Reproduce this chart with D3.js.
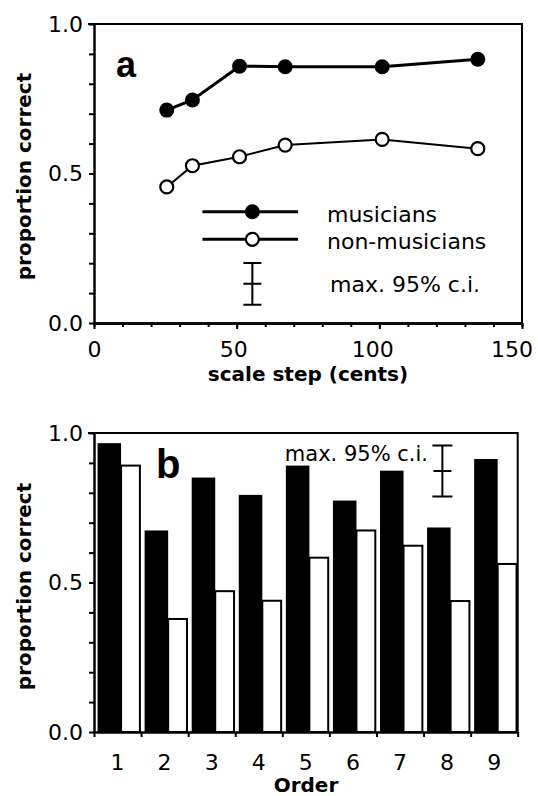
<!DOCTYPE html>
<html>
<head>
<meta charset="utf-8">
<script src="https://cdn.jsdelivr.net/npm/d3@7"></script>
<style>
  body { margin: 0; background: #fff; }
  text { font-family: "DejaVu Sans", sans-serif; fill: #000; }
  .bold { font-weight: bold; }
</style>
</head>
<body>
<script>
// panel a - proportion correct vs scale step
var steps = [25.5, 34.5, 51, 67, 101, 134.5];
var musiciansA = [0.712, 0.746, 0.859, 0.857, 0.857, 0.882];
var nonMusiciansA = [0.455, 0.526, 0.556, 0.595, 0.614, 0.583];
var ciA = { x: 55.5, mid: 0.131, half: 0.07 }; // max. 95% c.i.

// panel b - proportion correct by order
var orders = ["1", "2", "3", "4", "5", "6", "7", "8", "9"];
var musiciansB = [0.966, 0.674, 0.851, 0.793, 0.891, 0.774, 0.874, 0.684, 0.913];
var nonMusiciansB = [0.891, 0.378, 0.471, 0.439, 0.583, 0.674, 0.623, 0.438, 0.562];
var ciB = { order: "8", mid: 0.873, half: 0.085 };

var yTicks = d3.range(0, 1.01, 0.1);
var yLabels = [0, 0.5, 1];
var xTicksA = d3.range(0, 151, 10);
var xLabelsA = [0, 50, 100, 150];

var svg = d3.select("body").append("svg")
    .attr("width", 538)
    .attr("height", 796);

svg.append("rect").attr("width", 538).attr("height", 796).style("fill", "white");

/* ---------------- panel a ---------------- */
var xA = d3.scaleLinear().domain([0, 150]).range([94, 522]);
var yA = d3.scaleLinear().domain([0, 1]).range([323, 24]);

var gA = svg.append("g");

// frame top + right
gA.append("path")
    .attr("d", "M" + (xA(0) - 6) + "," + yA(1) + "H" + xA(150) + "V" + yA(0))
    .attr("fill", "none").attr("stroke", "black").attr("stroke-width", 2);

var lineA = d3.line()
    .x(function(d, i) { return xA(steps[i]); })
    .y(function(d) { return yA(d); });

gA.append("path").datum(musiciansA)
    .attr("d", lineA).attr("fill", "none").attr("stroke", "black").attr("stroke-width", 3);
gA.append("path").datum(nonMusiciansA)
    .attr("d", lineA).attr("fill", "none").attr("stroke", "black").attr("stroke-width", 2);

gA.selectAll("circle.mus").data(musiciansA).enter().append("circle")
    .attr("class", "mus")
    .attr("cx", function(d, i) { return xA(steps[i]); })
    .attr("cy", function(d) { return yA(d); })
    .attr("r", 7.5).style("fill", "black");

gA.selectAll("circle.non").data(nonMusiciansA).enter().append("circle")
    .attr("class", "non")
    .attr("cx", function(d, i) { return xA(steps[i]); })
    .attr("cy", function(d) { return yA(d); })
    .attr("r", 6.5).style("fill", "white").attr("stroke", "black").attr("stroke-width", 2.2);

// legend
var legY = [0.372, 0.28];
gA.append("line").attr("x1", xA(38)).attr("x2", xA(71.5)).attr("y1", yA(legY[0])).attr("y2", yA(legY[0]))
    .attr("stroke", "black").attr("stroke-width", 3);
gA.append("circle").attr("cx", xA(55.5)).attr("cy", yA(legY[0])).attr("r", 7.5).style("fill", "black");
gA.append("line").attr("x1", xA(38)).attr("x2", xA(71.5)).attr("y1", yA(legY[1])).attr("y2", yA(legY[1]))
    .attr("stroke", "black").attr("stroke-width", 3);
gA.append("circle").attr("cx", xA(55.5)).attr("cy", yA(legY[1])).attr("r", 6.5)
    .style("fill", "white").attr("stroke", "black").attr("stroke-width", 2.2);
gA.append("text").attr("x", 327).attr("y", yA(legY[0]) + 10).style("font-size", "22px").text("musicians");
gA.append("text").attr("x", 327).attr("y", yA(legY[1]) + 10).style("font-size", "22px").text("non-musicians");

// c.i. bar
var ciax = xA(ciA.x);
gA.append("path")
    .attr("d", "M" + ciax + "," + yA(ciA.mid + ciA.half) + "V" + yA(ciA.mid - ciA.half)
        + "M" + (ciax - 9) + "," + yA(ciA.mid + ciA.half) + "h18"
        + "M" + (ciax - 9) + "," + yA(ciA.mid) + "h18"
        + "M" + (ciax - 9) + "," + yA(ciA.mid - ciA.half) + "h18")
    .attr("fill", "none").attr("stroke", "black").attr("stroke-width", 2);
gA.append("text").attr("x", 330).attr("y", yA(ciA.mid) + 8).style("font-size", "22px").text("max. 95% c.i.");

gA.append("text").attr("class", "bold").attr("x", 116).attr("y", 77)
    .style("font-family", "Liberation Sans, sans-serif").style("font-size", "36px").text("a");

// axes
gA.append("g").attr("transform", "translate(0," + yA(0) + ")")
    .call(d3.axisBottom(xA).tickValues(xTicksA).tickFormat("").tickSize(4).tickSizeOuter(0));
var axA2 = gA.append("g").attr("transform", "translate(0," + yA(0) + ")")
    .call(d3.axisBottom(xA).tickValues(xLabelsA).tickSize(6).tickPadding(12).tickSizeOuter(0));
// labels sit a little left of their ticks in the original
axA2.selectAll(".tick text").attr("dx", function(d) { return -d * 0.07; });

gA.append("g").attr("transform", "translate(" + xA(0) + ",0)")
    .call(d3.axisLeft(yA).tickValues(yTicks).tickFormat(function(d) {
        return yLabels.some(function(v) { return Math.abs(v - d) < 1e-6; }) ? d3.format(".1f")(d) : "";
    }).tickSize(5).tickPadding(6).tickSizeOuter(0));

gA.append("text").attr("class", "bold").attr("x", 308).attr("y", 381)
    .attr("text-anchor", "middle").style("font-size", "20px").text("scale step (cents)");
gA.append("text").attr("class", "bold")
    .attr("transform", "translate(31," + (yA(0.5) + 3) + ") rotate(-90)")
    .attr("text-anchor", "middle").style("font-size", "20px").text("proportion correct");

/* ---------------- panel b ---------------- */
var xB = d3.scaleBand().domain(orders).range([94, 517.7]);
var xBEdges = d3.scaleLinear().domain([0, orders.length]).range(xB.range());
var yB = d3.scaleLinear().domain([0, 1]).range([732, 433]);
var bw = xB.bandwidth();

var gB = svg.append("g");

gB.append("path")
    .attr("d", "M" + (xB.range()[0] - 6) + "," + yB(1) + "H" + xB.range()[1] + "V" + yB(0))
    .attr("fill", "none").attr("stroke", "black").attr("stroke-width", 2);

gB.selectAll("rect.mus").data(musiciansB).enter().append("rect")
    .attr("class", "mus")
    .attr("x", function(d, i) { return xB(orders[i]) + bw * 0.075; })
    .attr("width", bw * 0.5)
    .attr("y", function(d) { return yB(d); })
    .attr("height", function(d) { return yB(0) - yB(d); })
    .style("fill", "black");

gB.selectAll("rect.non").data(nonMusiciansB).enter().append("rect")
    .attr("class", "non")
    .attr("x", function(d, i) { return xB(orders[i]) + bw * 0.575; })
    .attr("width", bw * 0.4)
    .attr("y", function(d) { return yB(d); })
    .attr("height", function(d) { return yB(0) - yB(d); })
    .style("fill", "white").attr("stroke", "black").attr("stroke-width", 2);

// c.i. bar
var cibx = xB(ciB.order) + bw * 0.4;
gB.append("path")
    .attr("d", "M" + cibx + "," + yB(ciB.mid + ciB.half) + "V" + yB(ciB.mid - ciB.half)
        + "M" + (cibx - 10) + "," + yB(ciB.mid + ciB.half) + "h20"
        + "M" + (cibx - 9) + "," + yB(ciB.mid) + "h18"
        + "M" + (cibx - 10) + "," + yB(ciB.mid - ciB.half) + "h20")
    .attr("fill", "none").attr("stroke", "black").attr("stroke-width", 2);
gB.append("text").attr("x", 428).attr("y", 461).attr("text-anchor", "end")
    .style("font-size", "21px").text("max. 95% c.i.");

gB.append("text").attr("class", "bold").attr("x", 156).attr("y", 478)
    .style("font-family", "Liberation Sans, sans-serif").style("font-size", "40px").text("b");

// axes
gB.append("g").attr("transform", "translate(0," + yB(0) + ")")
    .call(d3.axisBottom(xBEdges).tickValues(d3.range(0, orders.length + 1)).tickFormat("").tickSize(5).tickSizeOuter(0));
gB.append("g").attr("transform", "translate(0," + yB(0) + ")")
    .call(d3.axisBottom(xB).tickSize(0).tickPadding(22))
    .select(".domain").remove();
gB.append("g").attr("transform", "translate(" + xB.range()[0] + ",0)")
    .call(d3.axisLeft(yB).tickValues(yTicks).tickFormat(function(d) {
        return yLabels.some(function(v) { return Math.abs(v - d) < 1e-6; }) ? d3.format(".1f")(d) : "";
    }).tickSize(5).tickPadding(6).tickSizeOuter(0));

gB.append("text").attr("class", "bold").attr("x", 306).attr("y", 792)
    .attr("text-anchor", "middle").style("font-size", "20px").text("Order");
gB.append("text").attr("class", "bold")
    .attr("transform", "translate(31," + (yB(0.5) + 4) + ") rotate(-90)")
    .attr("text-anchor", "middle").style("font-size", "20px").text("proportion correct");

// axis styling
svg.selectAll(".domain").attr("stroke", "black").attr("stroke-width", 2.5);
svg.selectAll(".tick line").attr("stroke", "black").attr("stroke-width", 2);
svg.selectAll(".tick text").style("font-family", "DejaVu Sans, sans-serif").style("font-size", "22px").attr("fill", "black");
</script>
</body>
</html>
